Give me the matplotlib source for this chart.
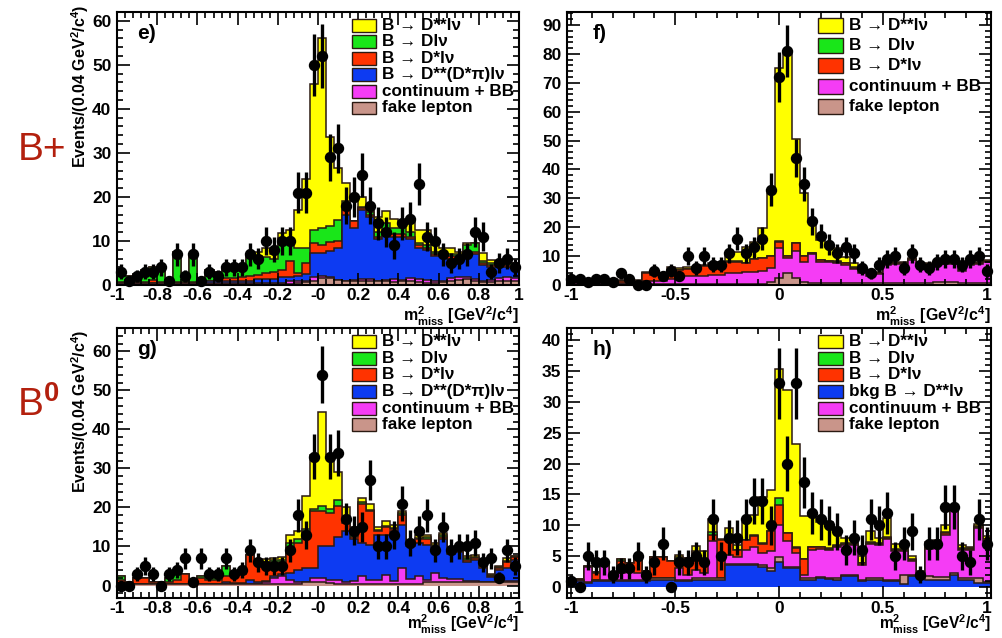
import numpy as np
import matplotlib
matplotlib.use('Agg')
import matplotlib.pyplot as plt
from matplotlib.ticker import MultipleLocator, FixedLocator, FixedFormatter
from matplotlib.patches import Rectangle

plt.rcParams['font.family'] = ['Liberation Sans', 'DejaVu Sans']
plt.rcParams['font.weight'] = 'bold'
plt.rcParams['mathtext.fontset'] = 'custom'
plt.rcParams['mathtext.it'] = 'Liberation Sans:bold'
plt.rcParams['mathtext.rm'] = 'Liberation Sans'
plt.rcParams['mathtext.bf'] = 'Liberation Sans:bold'

# bins: left panels 50 bins on [-1,1], right panels 51 bins on [-1.02,1.02]
edges_l = np.linspace(-1.0, 1.0, 51)
edges_r = np.linspace(-1.02, 1.02, 52)

xt_l = [-1, -0.8, -0.6, -0.4, -0.2, 0, 0.2, 0.4, 0.6, 0.8, 1]
xtl_l = ['-1', '-0.8', '-0.6', '-0.4', '-0.2', '-0', '0.2', '0.4', '0.6', '0.8', '1']
xt_r = [-1, -0.5, 0, 0.5, 1]
xtl_r = ['-1', '-0.5', '0', '0.5', '1']

# ---- panel e (B+), stack levels (running totals) ----
e_data = [3, 1, 2, 3, 3, 4, 1, 7, 2, 7, 1, 3, 2, 4, 4, 4, 7, 6, 10, 8, 10, 10, 21, 21, 50,
          52, 29, 31, 18, 20, 25, 18, 14, 12, 9, 14, 15, 23, 11, 10, 7, 5, 6, 7, 12, 11, 3, 5, 6, 4]
e_fake = [0.3] * 22 + [0.5, 0.6, 0.8, 1.5, 1.5, 1.2, 0.8, 0.8, 1.0, 1.0, 1.0, 0.8, 0.7, 0.8,
                       0.8, 0.6, 0.5, 0.5, 0.6, 0.9, 1.2, 1.3, 1.0, 0.7, 0.6, 0.8, 1.0, 0.8]
e_cont = [0.4] * 18 + [0.5, 0.5, 0.5, 0.8, 0.9, 1.0, 1.8, 2.0, 1.8, 1.0, 1.0, 1.2, 1.4, 1.3, 1.0,
                       1.2, 1.3, 1.2, 1.6, 1.4, 1.2, 1.0, 1.0, 1.5, 1.8, 1.9, 1.4, 1.0, 1.1, 1.7, 1.8, 1.6]
e_dsspi = [0.5] * 11 + [0.8, 0.8, 1.0, 1.0, 1.0, 1.0, 1.3, 1.3, 1.3, 1.8, 1.8, 2.0, 2.5, 7.2, 7.2,
                        7.8, 8.5, 16.0, 13.0, 17.0, 15.5, 10.5, 12.0, 11.0, 11.0, 10.5, 8.5, 8.0, 6.5,
                        6.5, 6.0, 6.0, 7.0, 7.0, 4.5, 4.0, 4.0, 4.2, 4.2]
e_dst = [0.7, 0.7, 0.7, 0.7, 1.2, 0.7, 0.7, 0.7, 0.7, 0.7, 0.7, 1.0, 1.0, 1.5, 1.7, 1.8, 2.0,
         2.3, 2.7, 3.0, 3.5, 5.5, 2.7, 5.0, 9.5, 9.0, 9.7, 10.0, 17.0, 14.5, 17.5, 16.0, 11.0,
         12.5, 11.5, 11.5, 11.0, 9.0, 8.5, 7.0, 7.0, 6.5, 6.5, 7.5, 7.5, 5.0, 4.5, 4.5, 4.6, 4.6]
e_d = [2.5, 2.0, 2.5, 3.5, 4.2, 3.5, 1.0, 7.5, 2.5, 7.0, 1.0, 3.5, 3.0, 4.0, 4.5, 4.5, 6.5,
       6.5, 6.4, 6.0, 10.6, 10.0, 8.3, 8.5, 12.5, 13.0, 13.5, 14.8, 19.0, 14.5, 17.8, 16.5,
       12.0, 14.0, 13.0, 13.0, 12.0, 9.5, 9.0, 7.5, 7.5, 7.0, 7.0, 9.0, 9.5, 5.5, 5.0, 5.0, 5.0, 5.0]
e_dss = [2.5, 2.0, 2.5, 3.5, 4.2, 3.5, 1.0, 7.5, 2.5, 7.0, 1.0, 3.5, 3.0, 4.0, 4.5, 4.5, 7.0,
         7.5, 8.3, 7.0, 11.7, 12.5, 17.0, 24.0, 45.6, 56.0, 33.7, 26.5, 23.1, 14.4, 20.0, 17.0,
         15.5, 16.7, 15.0, 14.0, 15.0, 12.5, 12.5, 9.0, 8.3, 8.3, 7.6, 9.5, 7.2, 7.2, 5.7, 5.3, 5.0, 5.0]

# ---- panel f (B+) ----
f_data = [2, 2, 1, 2, 2, 1, 4, 2, 0, 0, 5, 3, 5, 3, 10, 6, 10, 7, 7, 11, 16, 11, 13, 16, 33, 72,
          81, 44, 35, 22, 17, 14, 11, 13, 11, 6, 4, 7, 9, 10, 6, 11, 7, 6, 8, 9, 9, 7, 9, 10, 5]
f_fake = [0.5] * 24 + [1.2, 2.3, 4.3, 2.3, 1.0] + [0.6] * 15 + [1.0, 1.0, 1.0, 0.6, 0.6, 0.6, 0.6]
f_cont = [1.0] * 6 + [0.8] * 3 + [1.5] * 3 + [2.0, 2.0, 3.0, 3.0, 3.0, 3.5, 3.5, 4.0, 4.0, 4.6,
                                           4.6, 5.0, 5.8, 12.7, 9.2, 11.9, 8.1, 10.9, 8.0, 8.0, 7.5,
                                           7.0, 5.5, 4.2, 3.2, 3.8, 6.8, 7.2, 7.2, 8.8, 6.8, 6.8,
                                           6.8, 7.2, 7.2, 4.8, 6.8, 7.2, 7.8]
f_dst = [1.5] * 6 + [1.3] * 3 + [4.0, 3.3, 3.3, 5.0, 5.2, 5.5, 6.0, 6.5, 6.5, 6.5, 8.0, 8.0, 7.5,
                                 9.0, 9.2, 10.0, 15.0, 10.0, 14.5, 10.0, 11.0, 8.5, 8.3, 8.0, 7.5,
                                 6.0, 4.5, 3.5, 4.0, 7.0, 7.5, 7.5, 9.0, 7.0, 7.0, 7.0, 7.5, 7.5,
                                 5.0, 7.0, 7.5, 8.0]
f_d = [v + 0.15 for v in f_dst]
f_dss = [2.0] * 6 + [1.6] * 3 + [4.6, 4.0, 4.0, 6.3, 6.0, 6.3, 6.3, 7.0, 7.5, 8.1, 10.9, 11.5,
                                 13.3, 15.0, 19.6, 31.7, 75.0, 80.6, 50.7, 31.7, 22.5, 15.5, 13.2,
                                 12.7, 9.8, 7.5, 5.5, 4.0, 4.5, 7.5, 8.0, 8.0, 9.5, 7.5, 7.5, 7.5,
                                 8.0, 8.5, 6.5, 7.5, 8.0, 8.5]

# ---- panel g (B0) ----
g_data = [0, 0, 3, 5, 3, 0, 3, 4, 7, 1, 7, 3, 3, 7, 3, 4, 9, 6, 5, 5, 5, 9, 18, 13, 33, 54, 33,
          34, 17, 14, 15, 27, 10, 10, 13, 21, 11, 14, 18, 9, 15, 9, 10, 10, 11, 6, 7, 2, 9, 5]
g_fake = [0.3] * 16 + [0.4] * 7 + [0.8, 0.8, 0.8, 0.6, 0.5] + [0.5] * 10 + [0.8] * 12
g_cont = [0.7] + [0.5] * 17 + [1.0, 1.8, 2.5, 1.3, 1.0, 1.0, 2.0, 2.0, 1.5, 1.5, 1.0, 1.2, 2.5,
                               1.5, 1.3, 2.6, 1.2, 4.6, 1.6, 2.4, 1.5, 3.2, 2.0, 1.6, 1.6, 1.2,
                               1.2, 1.0, 0.9, 1.0, 1.2, 1.2]
g_dsspi = [0.5] * 13 + [1.0, 0.6, 0.6, 1.5, 1.0, 1.2, 2.5, 3.0, 3.2, 4.0, 4.5, 4.5, 10.0, 10.0,
                        12.5, 14.0, 12.0, 11.0, 10.5, 13.0, 13.0, 14.0, 15.5, 10.0, 11.0, 10.5,
                        9.5, 12.0, 8.0, 8.5, 6.0, 6.5, 4.5, 2.3, 4.0, 4.5, 6.5]
g_dst = [1.5, 0.5, 1.8, 1.8, 0.8, 0.8, 1.0, 1.5, 3.0, 1.5, 2.0, 1.5, 1.5, 2.5, 2.5, 3.0, 7.8,
         6.0, 5.5, 6.0, 6.0, 9.5, 11.0, 14.0, 19.0, 19.0, 18.5, 20.5, 16.0, 12.5, 21.0, 19.0,
         14.0, 15.0, 14.5, 18.0, 10.0, 12.0, 12.0, 10.0, 12.5, 8.5, 9.0, 6.5, 7.0, 5.0, 2.5, 4.5, 6.0, 7.3]
g_d = [2.5, 0.8, 2.0, 2.0, 1.0, 0.8, 2.0, 3.3, 3.0, 1.5, 2.5, 2.2, 1.8, 5.0, 2.5, 3.0, 7.8, 6.3,
       6.0, 6.5, 6.5, 11.0, 12.0, 14.5, 19.5, 20.5, 19.5, 22.0, 16.5, 13.0, 21.3, 19.3, 14.3,
       15.3, 14.8, 18.5, 10.3, 12.3, 12.5, 10.5, 13.0, 9.0, 9.3, 7.0, 7.2, 5.3, 2.8, 4.7, 6.3, 7.5]
g_dss = [2.5, 0.8, 2.0, 2.0, 1.0, 0.8, 2.0, 3.3, 3.0, 1.5, 2.5, 2.2, 1.8, 5.0, 2.5, 3.0, 7.8,
         6.8, 6.8, 7.0, 7.2, 13.0, 14.0, 23.0, 33.5, 44.5, 33.5, 29.0, 20.0, 15.0, 22.5, 21.0,
         15.0, 16.5, 15.5, 19.0, 11.0, 13.0, 13.0, 11.0, 13.5, 9.5, 10.0, 7.5, 7.8, 6.0, 3.0, 5.0, 7.0, 7.5]

# ---- panel h (B0), blue (bkg) sits at the bottom here ----
h_data = [1, 0, 5, 4, 4, 2, 3, 3, 5, 2, 4, 7, 0, 4, 4, 5, 4, 11, 5, 8, 8, 11, 14, 14, 10, 33,
          20, 33, 17, 12, 11, 10, 9, 6, 8, 6, 11, 10, 12, 5, 7, 9, 2, 7, 7, 13, 13, 5, 4, 11, 7]
h_bkg = [1.0, 1.0, 0.6, 1.0, 1.0, 1.0, 1.0, 1.0, 1.0, 1.0, 1.2, 1.2, 1.2, 1.0, 1.0, 1.2, 1.2,
         1.2, 1.2, 3.5, 3.5, 3.5, 3.5, 3.3, 2.5, 4.1, 3.0, 3.0, 1.2, 1.2, 1.4, 1.3, 1.2, 1.7,
         1.7, 1.0, 1.2, 1.2, 1.0, 1.0, 0.4, 1.7, 1.7, 1.2, 1.2, 1.2, 2.0, 1.2, 1.2, 0.6, 0.6]
h_fake = [1.2, 1.1, 0.8, 1.2, 1.2, 1.1, 1.2, 1.2, 1.2, 1.2, 1.4, 1.4, 1.4, 1.2, 1.2, 1.4, 1.4,
          1.4, 1.4, 3.7, 3.7, 3.7, 3.7, 3.5, 3.1, 4.9, 3.3, 3.2, 1.4, 1.4, 1.6, 1.5, 1.4, 1.9,
          1.9, 1.2, 1.4, 1.4, 1.2, 1.2, 1.9, 1.9, 1.9, 1.8, 1.6, 1.6, 2.2, 1.4, 1.4, 1.5, 0.8]
h_cont = [1.2, 1.1, 3.3, 1.2, 3.5, 1.1, 2.2, 2.5, 2.2, 2.5, 1.4, 1.4, 1.4, 3.0, 2.0, 2.8, 2.2,
          7.4, 1.4, 5.2, 4.8, 6.0, 6.5, 5.5, 5.8, 10.0, 7.5, 5.5, 2.0, 6.0, 6.2, 6.0, 6.5, 6.8,
          6.8, 3.5, 7.0, 6.8, 7.8, 5.8, 5.8, 4.2, 1.9, 6.2, 6.5, 8.5, 13.0, 6.0, 6.0, 9.5, 7.5]
h_dst = [1.3, 1.2, 3.3, 2.3, 3.5, 1.1, 4.2, 3.8, 4.5, 2.5, 4.8, 4.8, 4.2, 4.6, 4.6, 5.6, 4.5,
         8.5, 7.6, 8.0, 6.0, 7.6, 8.3, 7.0, 9.0, 13.3, 8.7, 6.3, 4.5, 6.4, 6.4, 6.2, 6.7, 7.0,
         7.0, 3.8, 7.2, 7.0, 8.0, 6.0, 6.0, 4.4, 2.0, 6.4, 6.7, 8.8, 13.2, 6.2, 6.2, 9.7, 7.7]
h_d = [1.35, 1.25, 3.35, 2.35, 3.55, 1.15, 4.5, 3.85, 4.7, 2.55, 4.85, 4.85, 4.25, 4.9, 4.65,
       5.9, 4.55, 8.9, 7.65, 8.05, 6.05, 7.65, 8.35, 7.05, 9.1, 14.4, 8.8, 6.4, 4.6, 6.5, 6.5,
       6.3, 6.8, 7.1, 7.1, 3.9, 7.3, 7.1, 8.1, 6.1, 6.1, 4.5, 2.1, 6.5, 6.8, 8.9, 13.3, 6.3,
       6.3, 9.8, 7.8]
h_dss = [1.3, 1.2, 3.3, 2.3, 3.5, 1.1, 4.4, 3.9, 4.9, 2.5, 4.8, 4.8, 4.2, 5.1, 4.6, 6.7, 5.8,
         11.0, 7.8, 9.5, 6.8, 10.5, 11.7, 14.6, 15.7, 35.4, 31.9, 23.2, 11.5, 11.5, 10.6, 10.6,
         9.0, 7.9, 7.6, 5.0, 9.0, 8.0, 11.1, 7.0, 6.5, 5.0, 2.5, 7.3, 7.6, 10.0, 13.3, 6.8,
         6.5, 10.2, 8.2]

c_dss, c_d, c_dst, c_blue = '#ffff00', '#19e619', '#ff3300', '#0d3bf2'
c_cont, c_fake = '#f53cf5', '#c9958a'
edge = '#2b1a12'

lab_dss = 'B \u2192 D**l\u03bd'
lab_d = 'B \u2192 Dl\u03bd'
lab_dst = 'B \u2192 D*l\u03bd'
lab_dsspi = 'B \u2192 D**(D*\u03c0)l\u03bd'
lab_bkg = 'bkg B \u2192 D**l\u03bd'
lab_cont = 'continuum + BB'
lab_fake = 'fake lepton'


def draw_panel(ax, edges, levels, colors, data, xlim, ylim, xt, xtl, ymaj, ymin, xmin):
    lv = np.maximum.accumulate(np.array(levels, dtype=float), axis=0)
    for top, c in zip(lv[::-1], colors[::-1]):
        ax.stairs(top, edges, baseline=0, fill=True, color=c, lw=0)
        ax.stairs(top, edges, baseline=0, color=edge, lw=1.1)
    centers = 0.5 * (edges[:-1] + edges[1:])
    d = np.array(data, dtype=float)
    ax.errorbar(centers, d, yerr=np.sqrt(d), fmt='o', color='black', ms=7.2,
                elinewidth=2.4, capsize=0, zorder=10, clip_on=False)
    ax.set_xlim(*xlim)
    ax.set_ylim(*ylim)
    ax.xaxis.set_major_locator(FixedLocator(xt))
    ax.xaxis.set_major_formatter(FixedFormatter(xtl))
    ax.xaxis.set_minor_locator(MultipleLocator(xmin))
    ax.yaxis.set_major_locator(MultipleLocator(ymaj))
    ax.yaxis.set_minor_locator(MultipleLocator(ymin))
    ax.tick_params(which='both', direction='in', top=True, right=True, width=1.2,
                   labelsize=12.5, pad=4)
    ax.tick_params(axis='x', which='both', pad=2)
    ax.tick_params(which='major', length=9)
    ax.tick_params(which='minor', length=4.5)
    for s in ax.spines.values():
        s.set_linewidth(1.5)


def draw_legend(ax, labels, colors, x0, w, ytop, step, h):
    for k, (lab, c) in enumerate(zip(labels, colors)):
        yc = ytop - k * step
        ax.add_patch(Rectangle((x0, yc - h / 2), w, h, transform=ax.transAxes,
                               facecolor=c, edgecolor=edge, lw=1.0, zorder=20))
        ax.text(x0 + w + 0.015, yc, lab, transform=ax.transAxes, fontsize=12.3,
                va='center', ha='left', zorder=20)


fig = plt.figure(figsize=(10.02, 6.38), dpi=100)
ax_e = fig.add_axes([0.1168, 0.5533, 0.4012, 0.4279])
ax_f = fig.add_axes([0.5659, 0.5533, 0.4232, 0.4279])
ax_g = fig.add_axes([0.1168, 0.0627, 0.4012, 0.4232])
ax_h = fig.add_axes([0.5659, 0.0627, 0.4232, 0.4232])

cols6 = [c_fake, c_cont, c_blue, c_dst, c_d, c_dss]
draw_panel(ax_e, edges_l, [e_fake, e_cont, e_dsspi, e_dst, e_d, e_dss], cols6, e_data,
           (-1, 1), (0, 62), xt_l, xtl_l, 10, 2, 0.04)
draw_panel(ax_f, edges_r, [f_fake, f_cont, f_dst, f_d, f_dss],
           [c_fake, c_cont, c_dst, c_d, c_dss], f_data,
           (-1.02, 1.02), (0, 94.5), xt_r, xtl_r, 10, 2, 0.1)
draw_panel(ax_g, edges_l, [g_fake, g_cont, g_dsspi, g_dst, g_d, g_dss], cols6, g_data,
           (-1, 1), (-3.2, 66), xt_l, xtl_l, 10, 2, 0.04)
draw_panel(ax_h, edges_r, [h_bkg, h_fake, h_cont, h_dst, h_d, h_dss],
           [c_blue, c_fake, c_cont, c_dst, c_d, c_dss], h_data,
           (-1.02, 1.02), (-1.8, 42), xt_r, xtl_r, 5, 1, 0.1)

leg6 = [lab_dss, lab_d, lab_dst, lab_dsspi, lab_cont, lab_fake]
legc6 = [c_dss, c_d, c_dst, c_blue, c_cont, c_fake]
draw_legend(ax_e, leg6, legc6, 0.585, 0.059, 0.952, 0.0607, 0.047)
draw_legend(ax_f, [lab_dss, lab_d, lab_dst, lab_cont, lab_fake],
            [c_dss, c_d, c_dst, c_cont, c_fake], 0.592, 0.059, 0.952, 0.0747, 0.055)
draw_legend(ax_g, leg6, legc6, 0.585, 0.059, 0.949, 0.0615, 0.048)
draw_legend(ax_h, [lab_dss, lab_d, lab_dst, lab_bkg, lab_cont, lab_fake], legc6,
            0.592, 0.059, 0.949, 0.0615, 0.048)

for ax, lab, x in [(ax_e, 'e)', 0.05), (ax_f, 'f)', 0.061), (ax_g, 'g)', 0.05), (ax_h, 'h)', 0.059)]:
    ax.text(x, 0.955, lab, transform=ax.transAxes, fontsize=15, va='top', ha='left')

ylab = 'Events/(0.04 GeV$^{\\mathbf{2}}$/c$^{\\mathbf{4}}$)'
xlab = '$\\mathbf{m^{2}_{miss}}$ [GeV$^{\\mathbf{2}}$/c$^{\\mathbf{4}}$]'
fig.text(0.080, 1 - 5 / 638, ylab, rotation=90, ha='center', va='top', fontsize=11.5)
fig.text(0.080, 1 - 330 / 638, ylab, rotation=90, ha='center', va='top', fontsize=11.5)
fig.text(519 / 1002, 1 - 316 / 638, xlab, ha='right', va='center', fontsize=11.5)
fig.text(991 / 1002, 1 - 316 / 638, xlab, ha='right', va='center', fontsize=11.5)
fig.text(519 / 1002, 1.5 / 638, xlab, ha='right', va='bottom', fontsize=11.2)
fig.text(991 / 1002, 1.5 / 638, xlab, ha='right', va='bottom', fontsize=11.2)

fig.text(42 / 1002, 1 - 150 / 638, 'B+', color='#b3200e', fontsize=28, weight='normal',
         ha='center', va='center')
fig.text(38 / 1002, 1 - 405 / 638, 'B$^{\\mathrm{0}}$', color='#b3200e', fontsize=28,
         weight='normal', ha='center', va='center')

fig.savefig('out.png', dpi=100)
